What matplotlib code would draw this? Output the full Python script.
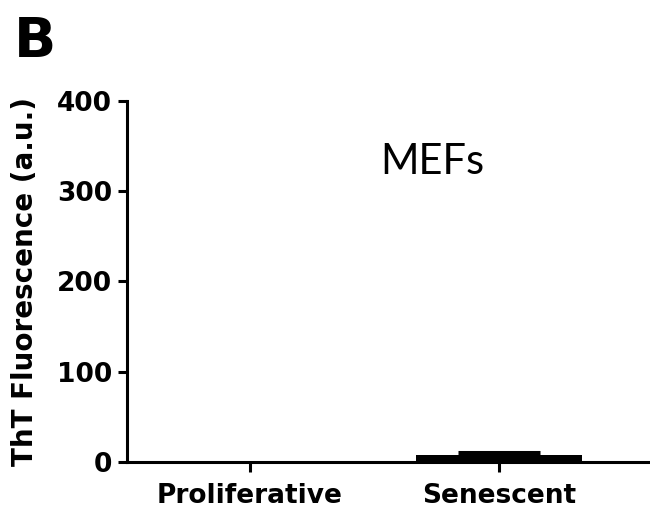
import matplotlib
matplotlib.use('Agg')
import matplotlib.pyplot as plt
import numpy as np

# Data
groups = ['Proliferative', 'Senescent']
means = [0.0, 8.0]
errors = [0.0, 2.5]

plt.rcParams['font.family'] = ['DejaVu Sans']

fig = plt.figure(figsize=(6.5, 5.12), dpi=100)
ax = fig.add_axes([0.195, 0.098, 0.805, 0.705])

x = np.arange(len(groups))
ax.bar(x, means, width=0.67, color='black', zorder=2)
# only draw error bars where there is one (zero-height caps would sit on the axis)
for xi, m, e in zip(x, means, errors):
    if e > 0:
        ax.errorbar(xi, m, yerr=[[0], [e]], fmt='none', ecolor='black',
                    elinewidth=2.2, capsize=29.5, capthick=2.2, zorder=3)

ax.set_xlim(-0.494, 1.606)
ax.set_ylim(0, 400)
ax.set_yticks([0, 100, 200, 300, 400])
ax.set_yticklabels(['0', '100', '200', '300', '400'], fontsize=19, fontweight='bold')
ax.set_xticks(x)
ax.set_xticklabels(groups, fontsize=19, fontweight='bold')

ax.spines['top'].set_visible(False)
ax.spines['right'].set_visible(False)
ax.spines['left'].set_linewidth(2.2)
ax.spines['bottom'].set_linewidth(2.2)
ax.tick_params(axis='y', width=2.2, length=6.5, direction='out', pad=4)
ax.tick_params(axis='x', width=2.2, length=7, direction='out', pad=8)

ax.set_ylabel('ThT Fluorescence (a.u.)', fontsize=20, fontweight='bold', va='center')
ax.yaxis.set_label_coords(-0.195, 0.5)

ax.text(0.731, 332, 'MEFs', fontsize=30,
        family=['Lato', 'DejaVu Sans'], ha='center', va='center')

fig.text(0.022, 0.97, 'B', fontsize=40, fontweight='bold', ha='left', va='top')

fig.savefig('out.png', dpi=100)
